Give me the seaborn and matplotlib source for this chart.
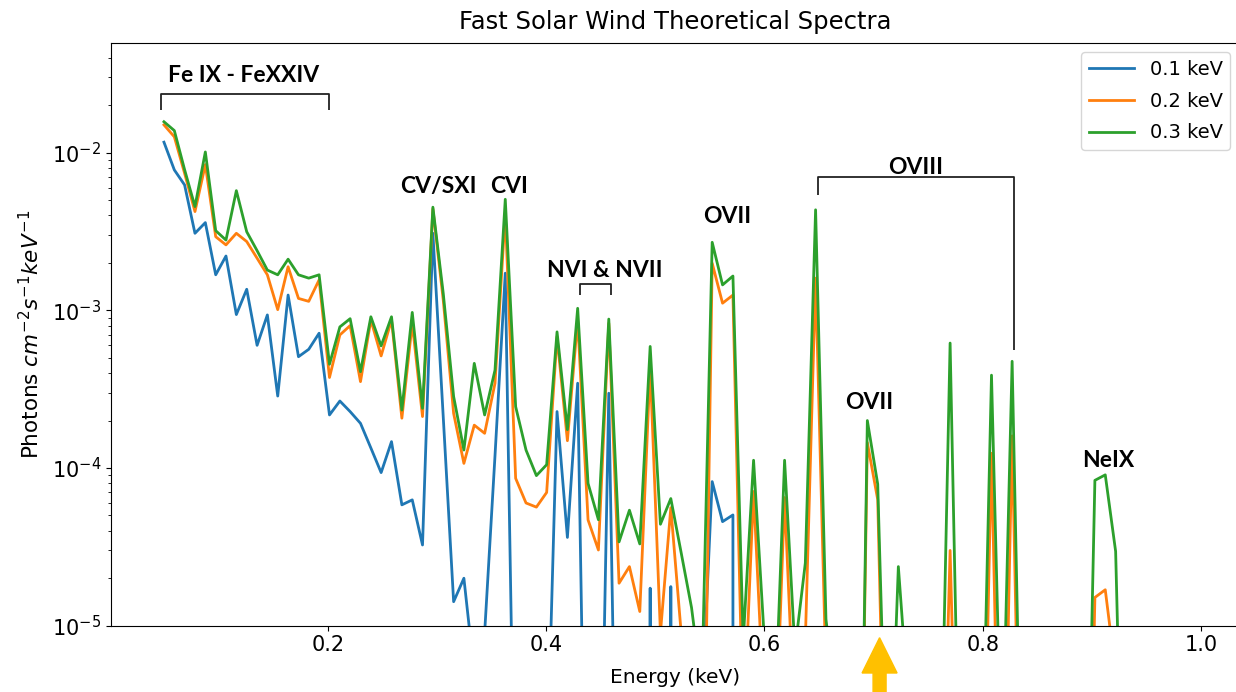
import matplotlib
matplotlib.use("Agg")
import matplotlib.pyplot as plt
from matplotlib.patches import FancyArrow
import pandas as pd
import seaborn as sns

# Energy grid of the model spectra (keV)
energy_kev = [
    0.0500, 0.0595, 0.0689, 0.0784, 0.0879, 0.0974, 0.1068, 0.1163, 0.1258, 0.1353,
    0.1447, 0.1542, 0.1637, 0.1732, 0.1826, 0.1921, 0.2016, 0.2111, 0.2205, 0.2300,
    0.2395, 0.2489, 0.2584, 0.2679, 0.2774, 0.2868, 0.2963, 0.3058, 0.3153, 0.3247,
    0.3342, 0.3437, 0.3532, 0.3626, 0.3721, 0.3816, 0.3911, 0.4005, 0.4100, 0.4195,
    0.4289, 0.4384, 0.4479, 0.4574, 0.4668, 0.4763, 0.4858, 0.4953, 0.5047, 0.5142,
    0.5237, 0.5332, 0.5426, 0.5521, 0.5616, 0.5711, 0.5805, 0.5900, 0.5995, 0.6089,
    0.6184, 0.6279, 0.6374, 0.6468, 0.6563, 0.6658, 0.6753, 0.6847, 0.6942, 0.7037,
    0.7132, 0.7226, 0.7321, 0.7416, 0.7511, 0.7605, 0.7700, 0.7795, 0.7889, 0.7984,
    0.8079, 0.8174, 0.8268, 0.8363, 0.8458, 0.8553, 0.8647, 0.8742, 0.8837, 0.8932,
    0.9026, 0.9121, 0.9216, 0.9311, 0.9405, 0.9500,
]

# Photon flux (photons cm^-2 s^-1 keV^-1) for each plasma temperature
flux_01kev = [
    1.165e-2, 7.77e-3, 6.24e-3, 3.08e-3, 3.6e-3, 1.68e-3, 2.21e-3, 9.4e-4, 1.36e-3, 6.0e-4,
    9.35e-4, 2.86e-4, 1.25e-3, 5.08e-4, 5.66e-4, 7.16e-4, 2.17e-4, 2.66e-4, 2.28e-4, 1.92e-4,
    1.34e-4, 9.35e-5, 1.47e-4, 5.84e-5, 6.28e-5, 3.25e-5, 3.08e-3, 2.1e-4, 1.42e-5, 2.0e-5,
    5e-6, 9e-6, 1.2e-4, 1.72e-3, 2.4e-7, 1e-7, 1e-7, 1e-6, 2.28e-4, 3.63e-5,
    3.45e-4, 4e-8, 9e-8, 2.98e-4, 5e-8, 0.0, 0.0, 1.73e-5, 0.0, 1.77e-5,
    0.0, 0.0, 3e-6, 8.2e-5, 4.57e-5, 5.04e-5, 0.0, 0.0, 0.0, 0.0,
    0.0, 0.0, 0.0, 0.0, 0.0, 0.0, 0.0, 0.0, 0.0, 0.0,
    0.0, 0.0, 0.0, 0.0, 0.0, 0.0, 0.0, 0.0, 0.0, 0.0,
    0.0, 0.0, 0.0, 0.0, 0.0, 0.0, 0.0, 0.0, 0.0, 0.0,
    0.0, 0.0, 0.0, 0.0, 0.0, 0.0,
]
flux_02kev = [
    1.5e-2, 1.26e-2, 7.4e-3, 4.23e-3, 8.4e-3, 2.93e-3, 2.6e-3, 3.08e-3, 2.73e-3, 2.14e-3,
    1.68e-3, 1.01e-3, 1.89e-3, 1.19e-3, 1.14e-3, 1.56e-3, 3.75e-4, 6.98e-4, 8.0e-4, 3.53e-4,
    8.69e-4, 5.14e-4, 8.69e-4, 2.07e-4, 8.28e-4, 2.12e-4, 4.4e-3, 1.16e-3, 2.22e-4, 1.07e-4,
    1.87e-4, 1.66e-4, 3.45e-4, 4.13e-3, 8.6e-5, 6.0e-5, 5.65e-5, 7.0e-5, 6.8e-4, 1.49e-4,
    8.69e-4, 4.69e-5, 3.02e-5, 8.28e-4, 1.86e-5, 2.37e-5, 1.23e-5, 4.4e-4, 9e-6, 5.6e-5,
    9e-6, 1e-7, 1e-7, 1.99e-3, 1.11e-3, 1.25e-3, 2e-6, 7.1e-5, 3e-6, 1e-6,
    6.5e-5, 2e-6, 8e-6, 1.6e-3, 5e-6, 1e-6, 1e-8, 1e-8, 1.45e-4, 6.3e-5,
    1e-7, 5e-6, 1e-7, 1e-8, 1e-8, 1e-7, 3e-5, 1e-7, 1e-8, 1e-7,
    1.24e-4, 1e-7, 1.6e-4, 1e-7, 1e-8, 1e-8, 1e-8, 1e-8, 1e-8, 1e-8,
    1.51e-5, 1.69e-5, 5e-6, 1e-8, 1e-8, 1e-8,
]
flux_03kev = [
    1.57e-2, 1.38e-2, 7.8e-3, 4.55e-3, 1.01e-2, 3.2e-3, 2.79e-3, 5.74e-3, 3.15e-3, 2.39e-3,
    1.8e-3, 1.68e-3, 2.11e-3, 1.68e-3, 1.6e-3, 1.68e-3, 4.55e-4, 7.85e-4, 8.85e-4, 4.08e-4,
    9.1e-4, 5.95e-4, 9.1e-4, 2.33e-4, 9.7e-4, 2.39e-4, 4.51e-3, 1.28e-3, 2.84e-4, 1.3e-4,
    4.61e-4, 2.17e-4, 4.18e-4, 5.06e-3, 2.45e-4, 1.3e-4, 8.95e-5, 1.05e-4, 7.3e-4, 1.75e-4,
    1.03e-3, 8.0e-5, 4.7e-5, 8.8e-4, 3.4e-5, 5.4e-5, 3.3e-5, 5.9e-4, 4.4e-5, 6.4e-5,
    2.9e-5, 1.3e-5, 4e-6, 2.7e-3, 1.45e-3, 1.65e-3, 8e-6, 1.12e-4, 9e-6, 2e-6,
    1.12e-4, 7e-6, 2.5e-5, 4.34e-3, 1.1e-5, 3e-6, 5e-8, 1e-8, 2.0e-4, 7.9e-5,
    4e-7, 2.37e-5, 3e-6, 1e-7, 1e-7, 4.5e-7, 6.2e-4, 3.5e-7, 1e-7, 5e-7,
    3.88e-4, 1e-6, 4.75e-4, 3e-7, 1e-7, 1e-7, 1e-7, 1e-7, 1e-7, 7e-8,
    8.35e-5, 9.05e-5, 2.96e-5, 7e-8, 1e-8, 1e-8,
]

temperatures = ["0.1 keV", "0.2 keV", "0.3 keV"]
line_colors = ["#1f77b4", "#ff7f0e", "#2ca02c"]

# Emission-line labels: (text, energy, flux at baseline)
line_labels = [
    ("Fe IX - FeXXIV", 0.1233, 2.808e-2),
    ("CV/SXI", 0.3013, 5.578e-3),
    ("CVI", 0.3658, 5.578e-3),
    ("NVI & NVII", 0.4537, 1.628e-3),
    ("OVII", 0.5654, 3.567e-3),
    ("OVIII", 0.7384, 7.327e-3),
    ("OVII", 0.6956, 2.36e-4),
    ("NeIX", 0.9147, 1.016e-4),
]
# Brackets grouping lines: (left energy, right energy, top flux, left foot, right foot)
brackets = [
    (0.0473, 0.2012, 2.346e-2, 1.866e-2, 1.866e-2),
    (0.4311, 0.4595, 1.464e-3, 1.252e-3, 1.252e-3),
    (0.6488, 0.8286, 7.045e-3, 5.393e-3, 5.61e-4),
]
marker_energy = 0.7054

frame = pd.DataFrame({
    "energy": energy_kev * 3,
    "flux": flux_01kev + flux_02kev + flux_03kev,
    "temperature": [t for t in temperatures for _ in energy_kev],
})

W, H = 1236, 692
fig = plt.figure(figsize=(W / 100, H / 100), dpi=100)
ax = fig.add_axes([111 / W, 66.3 / H, 1129 / W, 583 / H])

sns.lineplot(
    data=frame, x="energy", y="flux", hue="temperature",
    hue_order=temperatures, palette=line_colors, linewidth=2.0,
    estimator=None, sort=False, ax=ax,
)

ax.set_yscale("log")
ax.set_ylim(1e-5, 0.0498)
ax.set_xlim(0.0015, 1.0355)
ax.set_xticks([0.2, 0.4, 0.6, 0.8, 1.0])
ax.tick_params(axis="both", which="major", labelsize=15)
ax.set_xlabel("Energy (keV)", fontsize=14.5, labelpad=9)
ax.set_ylabel(r"Photons $cm^{-2}s^{-1}keV^{-1}$", fontsize=15.5, labelpad=6)
ax.set_title("Fast Solar Wind Theoretical Spectra", fontsize=17.5, pad=10)

sns.move_legend(ax, "upper right", title=None, fontsize=14,
                handlelength=2.3, labelspacing=0.65)

for text, xe, yf in line_labels:
    ax.text(xe, yf, text, ha="center", va="baseline", fontsize=16.5,
            fontfamily="Lato", fontweight="bold", color="black")

for x0, x1, ytop, yl, yr in brackets:
    ax.plot([x0, x0, x1, x1], [yl, ytop, ytop, yr], color="#222222",
            linewidth=1.3, solid_capstyle="butt")

# Upward marker arrow below the energy axis
x_px = ax.transData.transform((marker_energy, 1e-5))[0]
x_in = x_px / fig.dpi
tip_in = (H - 637.7) / 100
arrow = FancyArrow(x_in, -0.05, 0, tip_in + 0.05, width=0.13, head_width=0.35,
                   head_length=0.353, length_includes_head=True,
                   color="#FFC000", transform=fig.dpi_scale_trans)
fig.add_artist(arrow)

fig.savefig("out.png", dpi=100)
